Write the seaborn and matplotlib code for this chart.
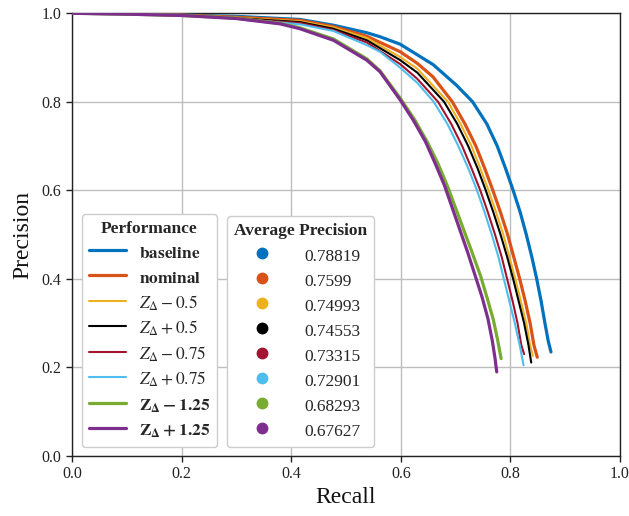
import numpy as np
import pandas as pd
import matplotlib
matplotlib.use("Agg")
import matplotlib.pyplot as plt
from matplotlib.lines import Line2D
import seaborn as sns

# ---------------- data ----------------
labels = ["baseline", "nominal", "Z-0.5", "Z+0.5", "Z-0.75", "Z+0.75", "Z-1.25", "Z+1.25"]
legend_labels = [r"$\mathbf{baseline}$", r"$\mathbf{nominal}$",
                 r"$Z_{\Delta} - 0.5$", r"$Z_{\Delta} + 0.5$",
                 r"$Z_{\Delta} - 0.75$", r"$Z_{\Delta} + 0.75$",
                 r"$\mathbf{Z_{\Delta} - 1.25}$", r"$\mathbf{Z_{\Delta} + 1.25}$"]
avg_precision = ["0.78819", "0.7599", "0.74993", "0.74553", "0.73315", "0.72901", "0.68293", "0.67627"]
colors = ["#0072BD", "#D95319", "#EDB120", "#000000", "#A2142F", "#4DBEEE", "#77AC30", "#7E2F8E"]

recall_baseline = [0.0, 0.1, 0.2, 0.3, 0.416, 0.477, 0.538, 0.562, 0.599, 0.659, 0.702, 0.731, 0.757, 0.776,
                   0.791, 0.805, 0.818, 0.829, 0.839, 0.848, 0.856, 0.863, 0.869, 0.874]
prec_baseline   = [1.0, 0.999, 0.996, 0.993, 0.986, 0.973, 0.956, 0.947, 0.930, 0.884, 0.837, 0.80, 0.75, 0.70,
                   0.65, 0.60, 0.55, 0.50, 0.45, 0.40, 0.35, 0.30, 0.26, 0.235]

recall_nominal = [0.0, 0.1, 0.2, 0.3, 0.416, 0.477, 0.538, 0.599, 0.630, 0.659, 0.694, 0.717, 0.737, 0.753,
                  0.768, 0.782, 0.795, 0.806, 0.817, 0.827, 0.836, 0.843, 0.849]
prec_nominal   = [1.0, 0.999, 0.996, 0.991, 0.984, 0.970, 0.948, 0.913, 0.887, 0.856, 0.80, 0.75, 0.70, 0.65,
                  0.60, 0.55, 0.50, 0.45, 0.40, 0.35, 0.30, 0.25, 0.223]

recall_m05 = [0.0, 0.1, 0.2, 0.3, 0.416, 0.477, 0.538, 0.599, 0.630, 0.686, 0.709, 0.729, 0.745,
              0.760, 0.774, 0.787, 0.798, 0.809, 0.819, 0.829, 0.836, 0.841]
prec_m05   = [1.0, 0.999, 0.996, 0.990, 0.982, 0.968, 0.944, 0.901, 0.875, 0.80, 0.75, 0.70, 0.65,
              0.60, 0.55, 0.50, 0.45, 0.40, 0.35, 0.30, 0.25, 0.226]

recall_p05 = [0.0, 0.1, 0.2, 0.3, 0.416, 0.477, 0.538, 0.599, 0.630, 0.679, 0.703, 0.723, 0.740,
              0.755, 0.769, 0.782, 0.794, 0.805, 0.815, 0.825, 0.833, 0.838]
prec_p05   = [1.0, 0.999, 0.996, 0.989, 0.980, 0.965, 0.939, 0.894, 0.866, 0.80, 0.75, 0.70, 0.65,
              0.60, 0.55, 0.50, 0.45, 0.40, 0.35, 0.30, 0.25, 0.211]

recall_m075 = [0.0, 0.1, 0.2, 0.3, 0.416, 0.477, 0.538, 0.599, 0.630, 0.668, 0.692, 0.712, 0.729,
               0.745, 0.759, 0.772, 0.784, 0.794, 0.804, 0.813, 0.820, 0.825]
prec_m075   = [1.0, 0.999, 0.996, 0.988, 0.978, 0.962, 0.934, 0.885, 0.852, 0.80, 0.75, 0.70, 0.65,
               0.60, 0.55, 0.50, 0.45, 0.40, 0.35, 0.30, 0.25, 0.230]

recall_p075 = [0.0, 0.1, 0.2, 0.3, 0.416, 0.477, 0.538, 0.562, 0.599, 0.630, 0.660, 0.685, 0.705, 0.723,
               0.739, 0.753, 0.766, 0.778, 0.788, 0.798, 0.808, 0.817, 0.824]
prec_p075   = [1.0, 0.999, 0.996, 0.988, 0.975, 0.960, 0.928, 0.913, 0.877, 0.843, 0.80, 0.75, 0.70, 0.65,
               0.60, 0.55, 0.50, 0.45, 0.40, 0.35, 0.30, 0.25, 0.205]

recall_m125 = [0.0, 0.1, 0.2, 0.3, 0.38, 0.416, 0.477, 0.538, 0.562, 0.599, 0.625, 0.648, 0.668,
               0.685, 0.700, 0.715, 0.730, 0.746, 0.758, 0.769, 0.777, 0.783]
prec_m125   = [1.0, 0.998, 0.995, 0.989, 0.977, 0.967, 0.942, 0.897, 0.870, 0.808, 0.76, 0.71, 0.66,
               0.61, 0.56, 0.51, 0.46, 0.405, 0.355, 0.307, 0.26, 0.220]

recall_p125 = [0.0, 0.1, 0.2, 0.3, 0.38, 0.416, 0.477, 0.538, 0.562, 0.599, 0.623, 0.645, 0.663,
               0.680, 0.694, 0.708, 0.722, 0.735, 0.748, 0.759, 0.767, 0.772, 0.775]
prec_p125   = [1.0, 0.998, 0.995, 0.988, 0.976, 0.965, 0.939, 0.894, 0.868, 0.804, 0.758, 0.71, 0.66,
               0.61, 0.56, 0.51, 0.46, 0.41, 0.36, 0.31, 0.26, 0.22, 0.190]

recalls = [recall_baseline, recall_nominal, recall_m05, recall_p05, recall_m075, recall_p075, recall_m125, recall_p125]
precisions = [prec_baseline, prec_nominal, prec_m05, prec_p05, prec_m075, prec_p075, prec_m125, prec_p125]
thick = [True, True, False, False, False, False, True, True]

x_ticks = [0.0, 0.2, 0.4, 0.6, 0.8, 1.0]
y_ticks = [0.0, 0.2, 0.4, 0.6, 0.8, 1.0]

# ---------------- style ----------------
sns.set_style("ticks")
plt.rcParams["font.family"] = ["Liberation Serif", "DejaVu Serif"]
plt.rcParams["mathtext.fontset"] = "stix"

fig = plt.figure(figsize=(6.29, 5.16), dpi=100)
ax = fig.add_axes([0.1145, 0.1163, 0.8712, 0.858])

for lab, r, p, c, th in zip(labels, recalls, precisions, colors, thick):
    df = pd.DataFrame({"Recall": r, "Precision": p})
    sns.lineplot(data=df, x="Recall", y="Precision", color=c, lw=2.3 if th else 1.5,
                 sort=False, estimator=None, ax=ax, zorder=3)

ax.set_xlim(0, 1)
ax.set_ylim(0, 1)
ax.set_xticks(x_ticks)
ax.set_yticks(y_ticks)
ax.set_xticklabels([f"{v:.1f}" for v in x_ticks])
ax.set_yticklabels([f"{v:.1f}" for v in y_ticks])
ax.grid(True, color="#bdbdbd", lw=1.0, zorder=0)
ax.tick_params(labelsize=11.5, direction="out", length=4, width=1, colors="#222222")
for s in ax.spines.values():
    s.set_color("#222222")
    s.set_linewidth(1.0)
ax.set_xlabel("Recall", fontsize=17, color="#111111", labelpad=3)
ax.set_ylabel("Precision", fontsize=17, color="#111111", labelpad=6)

line_handles = [Line2D([0], [0], color=c, lw=2.3 if th else 1.5) for c, th in zip(colors, thick)]
dot_handles = [Line2D([0], [0], color=c, marker="o", linestyle="none", markersize=7.5) for c in colors]

common = dict(fontsize=12.5, title_fontsize=12.5, frameon=True, fancybox=True,
              framealpha=1.0, edgecolor="#cccccc", labelspacing=0.32, handleheight=1.35,
              borderpad=0.4, borderaxespad=0.0)
leg1 = ax.legend(line_handles, legend_labels, title="Performance", loc="lower left",
                 bbox_to_anchor=(0.018, 0.02), handlelength=2.13, handletextpad=0.75, **common)
leg1.get_title().set_fontweight("bold")
ax.add_artist(leg1)
leg2 = ax.legend(dot_handles, avg_precision, title="Average Precision", loc="lower left",
                 bbox_to_anchor=(0.283, 0.02), handlelength=2.4, handletextpad=1.26, **common)
leg2.get_title().set_fontweight("bold")

fig.savefig("out.png", dpi=100)
